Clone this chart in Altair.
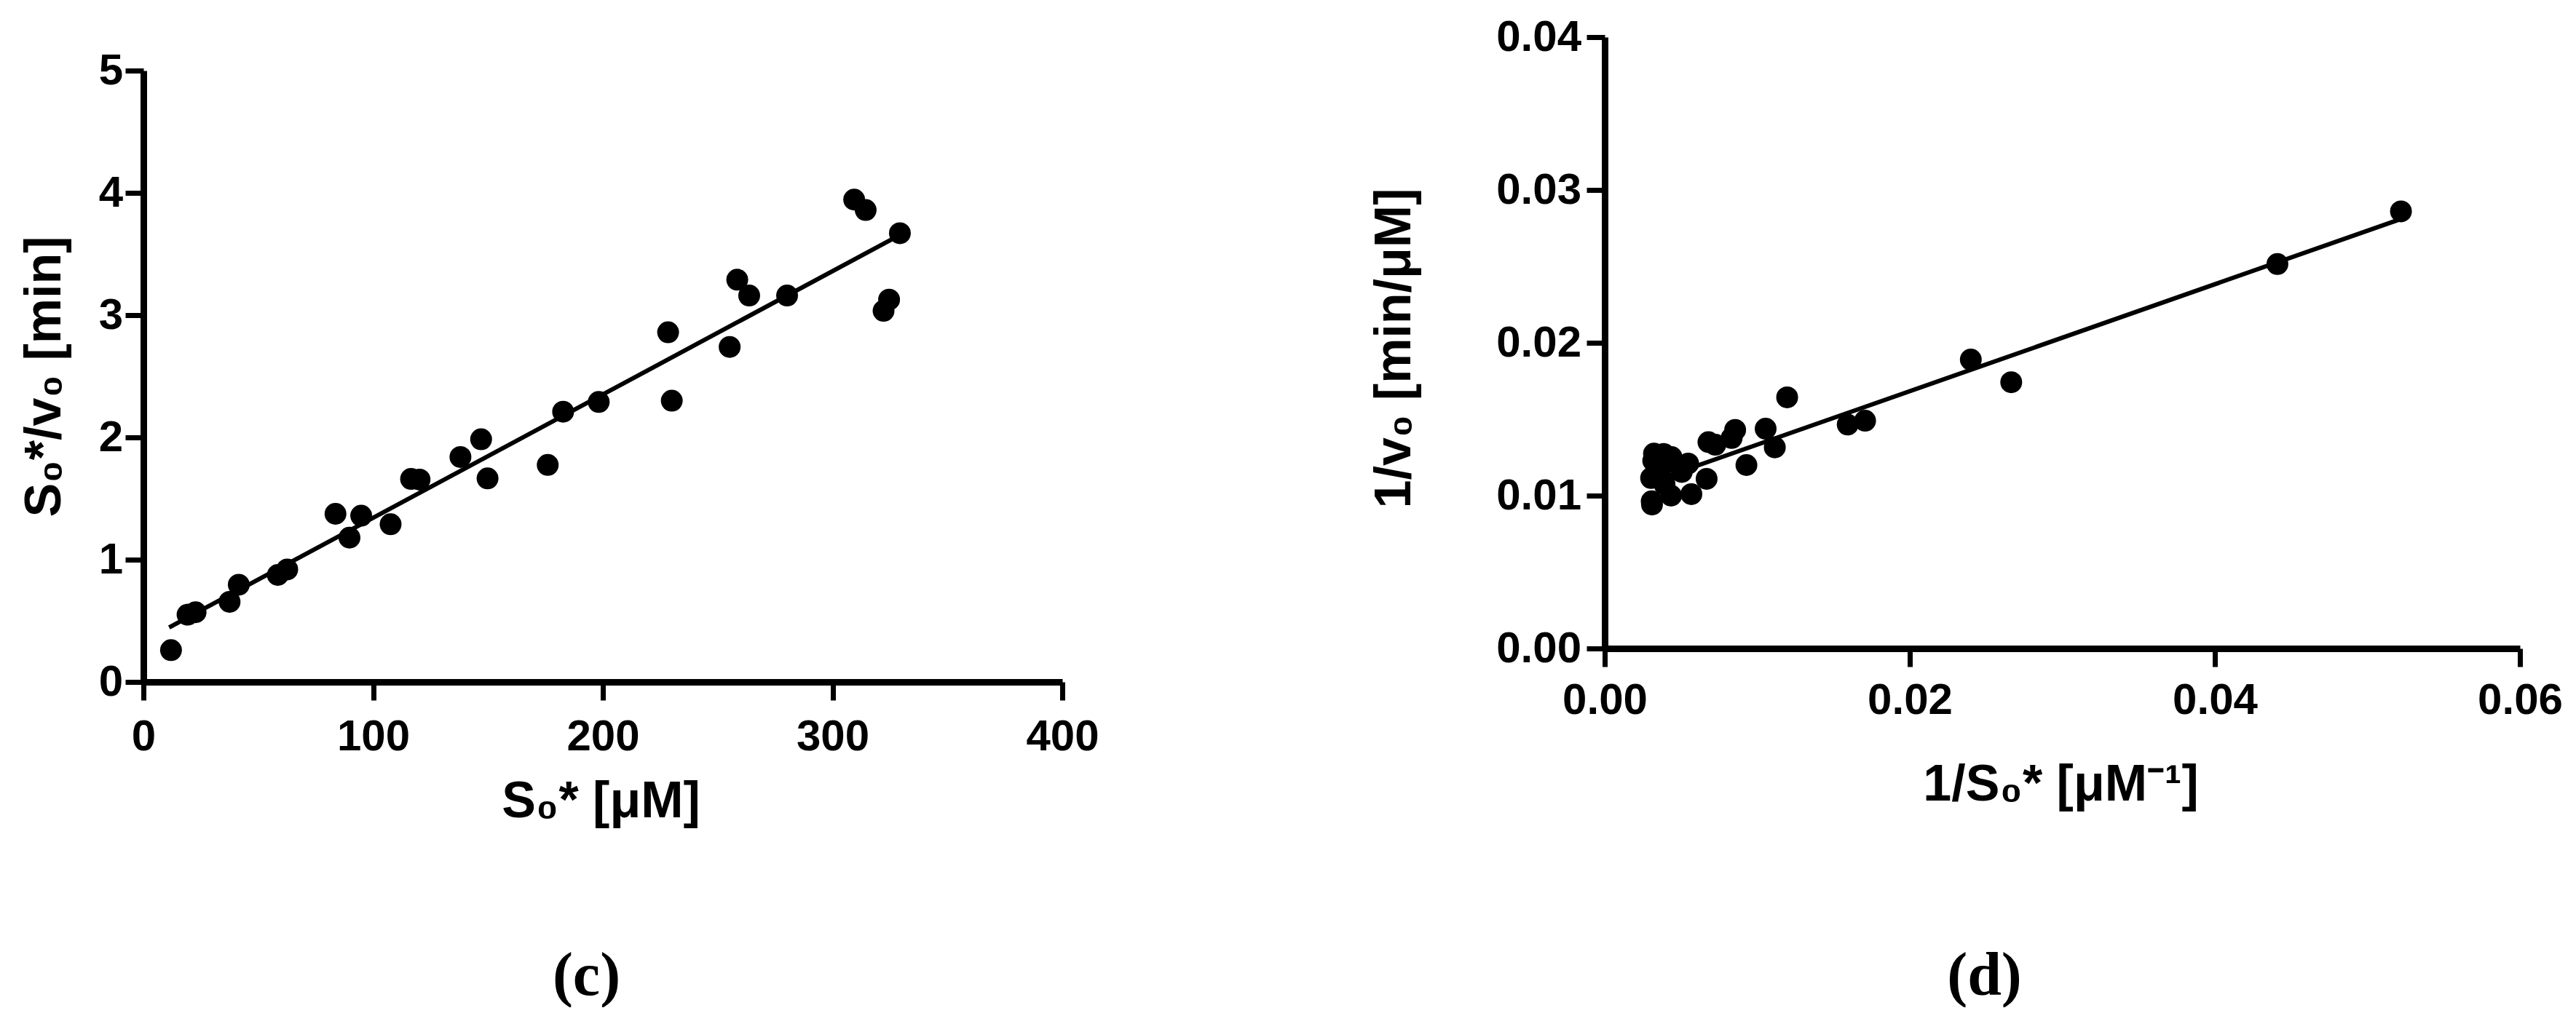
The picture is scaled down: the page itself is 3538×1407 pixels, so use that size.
import altair as alt
import pandas as pd

# ---------------- data ----------------
# Panel (c): S0* vs S0*/v0
c_s0 = [12.0, 19.2, 22.7, 37.5, 41.5, 58.5, 62.6, 83.6, 94.8, 89.7,
        107.6, 116.5, 120.2, 138.0, 147.0, 149.8, 176.0, 182.7, 198.2, 228.4,
        230.0, 255.2, 258.5, 263.7, 280.2, 309.4, 314.4, 329.3, 324.6, 322.2]
c_ratio = [0.26, 0.55, 0.57, 0.655, 0.795, 0.875, 0.92, 1.375, 1.36, 1.18,
           1.29, 1.66, 1.655, 1.84, 1.985, 1.665, 1.775, 2.21, 2.29, 2.86,
           2.30, 2.74, 3.29, 3.16, 3.16, 3.945, 3.86, 3.67, 3.127, 3.035]
c_fit_x = [11.2, 329.3]
c_fit_y = [0.446, 3.656]

# Panel (d): 1/S0* vs 1/v0
d_inv_s = [0.0522, 0.0441, 0.02665, 0.0240, 0.01707, 0.01593, 0.01196, 0.01055, 0.01115, 0.00929,
           0.00855, 0.00832, 0.00725, 0.0068, 0.00668, 0.00568, 0.00547, 0.00505, 0.00438, 0.00435,
           0.00392, 0.00387, 0.00379, 0.00357, 0.00323, 0.00318, 0.00304, 0.00308, 0.0031]
d_inv_v = [0.0286, 0.02515, 0.01742, 0.0189, 0.0149, 0.01465, 0.01643, 0.01438, 0.01316, 0.0120,
           0.0143, 0.01377, 0.01333, 0.0135, 0.0111, 0.0101, 0.0121, 0.01155, 0.01252, 0.0100,
           0.01074, 0.01273, 0.01198, 0.01128, 0.01275, 0.01228, 0.01115, 0.00963, 0.00942]
d_fit_x = [0.00304, 0.0522]
d_fit_y = [0.0109, 0.0281]

c_xticks = [0, 100, 200, 300, 400]
c_yticks = [0, 1, 2, 3, 4, 5]
d_xticks = [0.00, 0.02, 0.04, 0.06]
d_yticks = [0.00, 0.01, 0.02, 0.03, 0.04]

# ---------------- styling ----------------
FONT = "Liberation Sans"
SERIF = "Liberation Serif"


def axis(values, fmt, title, label_pad, title_x, title_y, vertical, title_baseline="alphabetic"):
    kw = dict(
        values=values, format=fmt, title=title,
        grid=False, ticks=True, tickSize=25, tickWidth=7, tickColor="black",
        domainWidth=9, domainColor="black",
        labelFont=FONT, labelFontWeight="bold", labelFontSize=60, labelColor="black",
        labelPadding=label_pad, labelFlush=False, labelOverlap=False, labelBound=False,
        titleFont=FONT, titleFontWeight="bold", titleFontSize=70, titleColor="black",
        titleX=title_x, titleY=title_y, titleBaseline=title_baseline, titleAlign="center",
    )
    if vertical:
        kw["titleAngle"] = 270
    else:
        kw["titleAngle"] = 0
    return alt.Axis(**kw)


# ---------------- panel (c) ----------------
df_c = pd.DataFrame({"S": c_s0, "R": c_ratio})
df_c_fit = pd.DataFrame({"S": c_fit_x, "R": c_fit_y})

c_x = alt.X("S:Q", scale=alt.Scale(domain=[0, 400], nice=False, zero=False),
            axis=axis(c_xticks, "d", "S₀* [μM]", 21, 628, 185, False))
c_y = alt.Y("R:Q", scale=alt.Scale(domain=[0, 5], range=[926, 86], nice=False, zero=False),
            axis=axis(c_yticks, "d", "S₀*/v₀ [min]", 3.5, -114.5, 506, True))

c_line = alt.Chart(df_c_fit).mark_line(color="black", strokeWidth=6).encode(x=c_x, y=c_y)
c_pts = alt.Chart(df_c).mark_circle(size=900, color="black", opacity=1).encode(x="S:Q", y="R:Q")

panel_c = alt.layer(c_line, c_pts).properties(
    width=1262, height=926,
    title=alt.TitleParams(text="(c)", orient="bottom", anchor="middle", frame="group",
                          offset=231, dx=-22.5, baseline="alphabetic",
                          font=SERIF, fontSize=84, fontWeight="bold", color="black"),
)

# ---------------- panel (d) ----------------
df_d = pd.DataFrame({"X": d_inv_s, "Y": d_inv_v})
df_d_fit = pd.DataFrame({"X": d_fit_x, "Y": d_fit_y})

d_x = alt.X("X:Q", scale=alt.Scale(domain=[0, 0.06], nice=False, zero=False),
            axis=axis(d_xticks, ".2f", "1/S₀* [μM⁻¹]", 17, 626, 208, False))
d_y = alt.Y("Y:Q", scale=alt.Scale(domain=[0, 0.04], range=[880, 40], nice=False, zero=False),
            axis=axis(d_yticks, ".2f", "1/v₀ [min/μM]", 7.5, -267.5, 467, True))

d_line = alt.Chart(df_d_fit).mark_line(color="black", strokeWidth=6).encode(x=d_x, y=d_y)
d_pts = alt.Chart(df_d).mark_circle(size=900, color="black", opacity=1).encode(x="X:Q", y="Y:Q")

panel_d = alt.layer(d_line, d_pts).properties(
    width=1257, height=880,
    title=alt.TitleParams(text="(d)", orient="bottom", anchor="middle", frame="group",
                          offset=254, dx=-107, baseline="alphabetic",
                          font=SERIF, fontSize=84, fontWeight="bold", color="black"),
)

chart = alt.hconcat(panel_c, panel_d, spacing=370).properties(
    padding={"left": 18, "top": 3, "right": 0, "bottom": 0},
    background="white",
).configure_view(stroke=None)

chart.save("out.html", embed_options={"renderer": "svg", "actions": False})
